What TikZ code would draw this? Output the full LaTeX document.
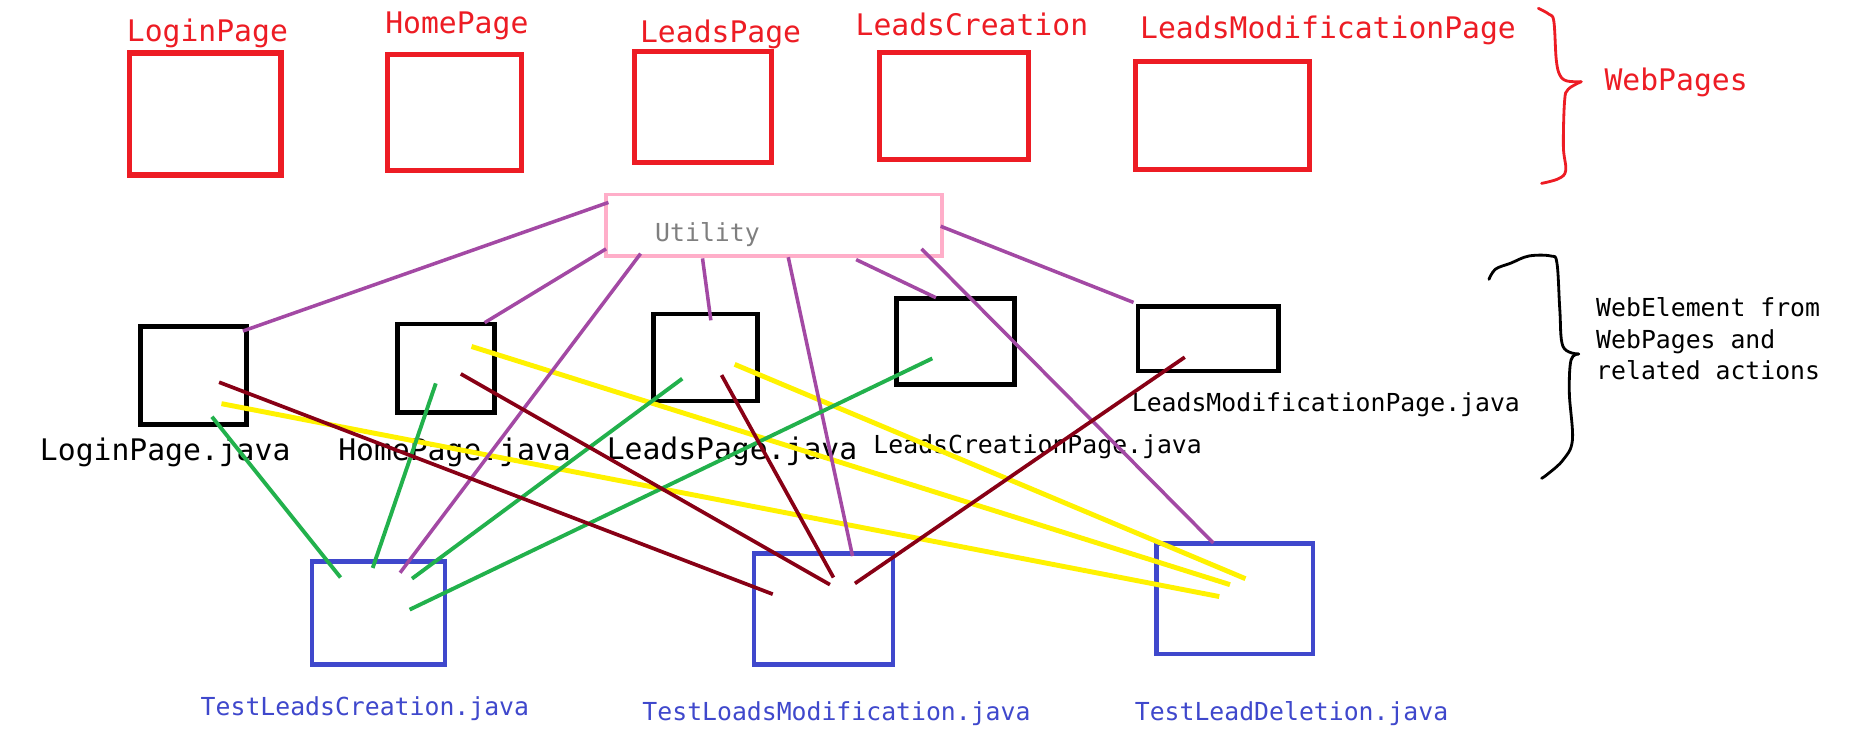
\documentclass[tikz,border=0pt]{standalone}
\usepackage{fontspec}
\newfontfamily\monof{DejaVu Sans Mono}
\usetikzlibrary{fit}
\definecolor{pred}{HTML}{ED1C24}
\definecolor{ppink}{HTML}{FFAEC9}
\definecolor{ppurple}{HTML}{A349A4}
\definecolor{pgreen}{HTML}{22B14C}
\definecolor{pdkred}{HTML}{880015}
\definecolor{pyellow}{HTML}{FFF200}
\definecolor{pblue}{HTML}{3F48CC}
\definecolor{pgray}{HTML}{7F7F7F}
\newcommand\bigtxt{\monof\fontsize{8.45}{10.1}\selectfont}
\newcommand\smalltxt{\monof\fontsize{7.05}{8.97}\selectfont}
\tikzset{
  wpbox/.style={draw=pred, line width=1.45pt, inner sep=0pt},
  jbox/.style={draw=black, line width=1.35pt, inner sep=0pt},
  tbox/.style={draw=pblue, line width=1.2pt, inner sep=0pt},
  ubox/.style={draw=ppink, line width=1.1pt, inner sep=0pt},
  redlbl/.style={font=\bigtxt, text=pred, inner sep=0pt, anchor=base west},
  jbiglbl/.style={font=\bigtxt, text=black, inner sep=0pt, anchor=base west},
  jsmalllbl/.style={font=\smalltxt, text=black, inner sep=0pt, anchor=base west},
  tlbl/.style={font=\smalltxt, text=pblue, inner sep=0pt, anchor=base west},
  ulbl/.style={font=\smalltxt, text=pgray, inner sep=0pt, anchor=base west},
  plink/.style={draw=ppurple, line width=1.0pt},
  glink/.style={draw=pgreen, line width=1.1pt},
  rlink/.style={draw=pdkred, line width=1.05pt},
  ylink/.style={draw=pyellow, line width=1.4pt},
  hbrace/.style={line width=0.8pt, line cap=round, line join=round},
}
\begin{document}
\begin{tikzpicture}[x=0.011907cm, y=-0.011907cm]
\fill[white] (0,0) rectangle (1568,633);
\useasboundingbox (0,0) rectangle (1568,633);

% ---- web pages (red)
\node[wpbox, fit={(109,44.5)(236,147)}] (wLogin) {};
\node[wpbox, fit={(325.5,45.5)(438,143)}] (wHome) {};
\node[wpbox, fit={(533,43)(648,136.5)}] (wLeads) {};
\node[wpbox, fit={(738.5,44)(864,134)}] (wCreate) {};
\node[wpbox, fit={(953.5,51.5)(1100,142.5)}] (wModify) {};
\node[redlbl] (tLogin) at (106,35) {LoginPage};
\node[redlbl] (tHome) at (323,28) {HomePage};
\node[redlbl] (tLeads) at (537,35.8) {LeadsPage};
\node[redlbl] (tCreate) at (718,30) {LeadsCreation};
\node[redlbl] (tModify) at (957,32.2) {LeadsModificationPage};
\node[redlbl] (tWeb) at (1347,75.6) {WebPages};
\draw[hbrace, pred] plot[smooth, tension=0.6] coordinates {(1292,7) (1301,12) (1305,18) (1307,50) (1310,63) (1316,68) (1328,68.6)};
\draw[hbrace, pred] plot[smooth, tension=0.6] coordinates {(1328,68.6) (1317,75) (1314,85) (1313,123) (1315,143) (1309,150) (1294.7,154)};

% ---- utility
\node[ubox, fit={(509,163.3)(791,215)}] (util) {};
\node[ulbl] (tUtil) at (549.7,202.5) {Utility};

% ---- page classes (black)
\node[jbox, fit={(118,274)(207,356.3)}] (jLogin) {};
\node[jbox, fit={(334,272)(415.4,346.5)}] (jHome) {};
\node[jbox, fit={(549,263.7)(636,336.7)}] (jLeads) {};
\node[jbox, fit={(752.8,250.6)(852,322.7)}] (jCreate) {};
\node[jbox, fit={(955.8,257.3)(1074,311.5)}] (jModify) {};
\node[jbiglbl] (ljLogin) at (33,387) {LoginPage.java};
\node[jbiglbl] (ljHome) at (283.5,387) {HomePage.java};
\node[jbiglbl] (ljLeads) at (509,385.8) {LeadsPage.java};
\node[jsmalllbl] (ljCreate) at (733,380.7) {LeadsCreationPage.java};
\node[jsmalllbl] (ljModify) at (950,346) {LeadsModificationPage.java};
\node[jsmalllbl, align=left] (tElem) at (1340,319) {WebElement from\\WebPages and\\related actions};
\draw[hbrace, black] plot[smooth, tension=0.6] coordinates {(1250.5,234.6) (1256,226) (1268.8,221) (1284,215) (1302.4,215) (1307.6,221) (1310,260) (1312.7,291) (1325.8,297.3)};
\draw[hbrace, black] plot[smooth, tension=0.6] coordinates {(1325.8,297.3) (1319.4,302.4) (1318,330) (1320.6,369.5) (1312.7,386.3) (1300,398) (1294.7,401.7)};

% ---- tests (blue)
\node[tbox, fit={(262,471.5)(373.7,558)}] (tc) {};
\node[tbox, fit={(633,464.8)(750,558)}] (tm) {};
\node[tbox, fit={(971.3,456.4)(1102.4,549.5)}] (td) {};
\node[tlbl] (ltc) at (168,600.5) {TestLeadsCreation.java};
\node[tlbl] (ltm) at (539,605) {TestLoadsModification.java};
\node[tlbl] (ltd) at (952.5,604.7) {TestLeadDeletion.java};

% ---- connector end points
\coordinate (uA) at (511,170);   \coordinate (jLoginNE) at (204,278);
\coordinate (uB) at (509,209);   \coordinate (jHomeN) at (407,271);
\coordinate (uC) at (538,213);   \coordinate (tcP) at (336,481);
\coordinate (uD) at (590,217);   \coordinate (jLeadsN) at (597,269);
\coordinate (uE) at (662,216);   \coordinate (tmP) at (716,467);
\coordinate (uF) at (719,218);   \coordinate (jCreateN) at (786,250);
\coordinate (uG) at (790,190);   \coordinate (jModifyNW) at (952,254);
\coordinate (uH) at (774,209);   \coordinate (tdP) at (1019,456);

\coordinate (jLoginG) at (178,350);  \coordinate (tcG1) at (286,485);
\coordinate (jHomeG) at (366,322);   \coordinate (tcG2) at (313,477);
\coordinate (jLeadsG) at (573,318);  \coordinate (tcG3) at (346,486);
\coordinate (jCreateG) at (783,301); \coordinate (tcG4) at (344,512);

\coordinate (jLoginR) at (184,321);  \coordinate (tmR1) at (649,499);
\coordinate (jHomeR) at (387,314);   \coordinate (tmR2) at (697,491);
\coordinate (jLeadsR) at (606,315);  \coordinate (tmR3) at (700,485);
\coordinate (jModifyR) at (995,300); \coordinate (tmR4) at (718,490);

\coordinate (jLoginY) at (186,339);  \coordinate (tdY1) at (1024,501);
\coordinate (jHomeY) at (396,291);   \coordinate (tdY2) at (1033,491);
\coordinate (jLeadsY) at (617,306);  \coordinate (tdY3) at (1046,486);

% ---- connectors
\draw[ylink] (jLoginY) -- (tdY1);
\draw[ylink] (jHomeY) -- (tdY2);
\draw[ylink] (jLeadsY) -- (tdY3);

\draw[plink] (uA) -- (jLoginNE);
\draw[plink] (uB) -- (jHomeN);
\draw[plink] (uC) -- (tcP);
\draw[plink] (uD) -- (jLeadsN);
\draw[plink] (uE) -- (tmP);
\draw[plink] (uF) -- (jCreateN);
\draw[plink] (uG) -- (jModifyNW);
\draw[plink] (uH) -- (tdP);

\draw[glink] (jLoginG) -- (tcG1);
\draw[glink] (jHomeG) -- (tcG2);
\draw[glink] (jLeadsG) -- (tcG3);
\draw[glink] (jCreateG) -- (tcG4);

\draw[rlink] (jLoginR) -- (tmR1);
\draw[rlink] (jHomeR) -- (tmR2);
\draw[rlink] (jLeadsR) -- (tmR3);
\draw[rlink] (jModifyR) -- (tmR4);
\end{tikzpicture}
\end{document}
